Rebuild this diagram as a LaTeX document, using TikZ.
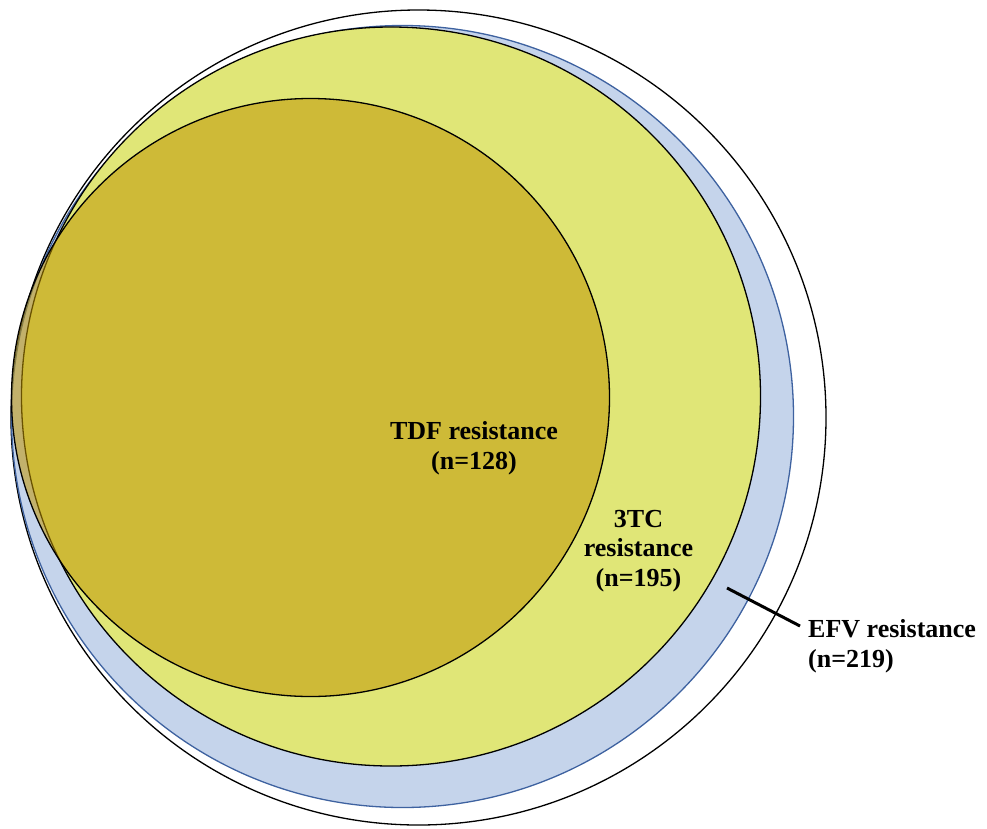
\documentclass[tikz,border=0pt]{standalone}
\usepackage{fontspec}
\setmainfont{Liberation Serif}
\definecolor{efvblue}{RGB}{197,212,235}
\definecolor{efvline}{RGB}{62,98,160}
\definecolor{tcyellow}{RGB}{224,230,119}
\definecolor{tdfgold}{RGB}{193,150,3}
\tikzset{
  ring/.style={circle, inner sep=0pt, outer sep=0pt, line width=1.3pt},
  lbl/.style={font=\bfseries\fontsize{26}{29.5}\selectfont, inner sep=0pt, align=center}
}
\begin{document}
\begin{tikzpicture}[x=1pt,y=-1pt]
\useasboundingbox (0,0) rectangle (987,828);
\node[ring, draw=black, fill=white, minimum size=815] (outer) at (418.5,417.5) {};
\node[ring, draw=efvline, fill=efvblue, minimum size=782] (efvc) at (402.5,416.5) {};
\node[ring, draw=black, fill=tcyellow, minimum size=739] (tcc) at (391,396.5) {};
\node[ring, draw=black, fill=tdfgold, fill opacity=0.55, minimum size=598] (tdfc) at (310.5,397.5) {};
\node[lbl] (tdf) at (474,448) {TDF resistance\\(n=128)};
\node[lbl] (tc) at (638.5,551) {3TC\\resistance\\(n=195)};
\node[lbl, align=left, anchor=west] (efv) at (808,646) {EFV resistance\\(n=219)};
\coordinate (efvtip) at (727,588);
\coordinate (efvend) at (800,626);
\draw[line width=3pt] (efvtip) -- (efvend);
\end{tikzpicture}
\end{document}
